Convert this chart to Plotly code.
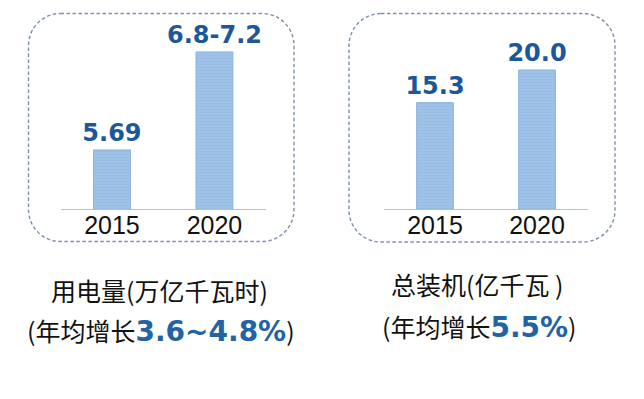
import plotly.graph_objects as go

# the page body has an 8px margin; the figure is sized so that page == window
OFF = 8
W, H = 644 - 2 * OFF, 399 - 2 * OFF

# ---- data ----
years = ["2015", "2020"]
power_use = [5.69, 7.0]            # 万亿千瓦时 (2020 shown as range 6.8-7.2)
power_use_labels = ["5.69", "6.8-7.2"]
capacity = [15.3, 20.0]            # 亿千瓦
capacity_labels = ["15.3", "20.0"]

title_left_1 = "用电量(万亿千瓦时)"
title_left_2a, title_left_2b = "(年均增长", "3.6~4.8%"
title_right_1 = "总装机(亿千瓦 )"
title_right_2a, title_right_2b = "(年均增长", "5.5%"

BAR = "#9FC3E8"
BAR_LINE = "#8DB3DE"
LABEL_BLUE = "#1D5797"
BOLD_BLUE = "#2163A5"
BOX = "#7F90A8"


def px(x):
    return (x - OFF) / W


def py(y):
    return 1 - (y - OFF) / H


def bar(x, y, text, xa, ya):
    return go.Bar(
        x=x, y=y, text=text, xaxis=xa, yaxis=ya,
        textposition="outside", constraintext="none", cliponaxis=True,
        textfont=dict(family="DejaVu Sans", size=24, color=LABEL_BLUE, weight="bold"),
        marker=dict(
            color=BAR,
            line=dict(color=BAR_LINE, width=1),
            pattern=dict(shape="-", bgcolor=BAR, fgcolor="#8AB2DD", size=3, solidity=0.25),
        ),
        width=0.36, showlegend=False, hoverinfo="skip",
    )


fig = go.Figure()
fig.add_trace(bar(years, power_use, power_use_labels, "x", "y"))
fig.add_trace(bar(years, capacity, capacity_labels, "x2", "y2"))

base_y, top_y = 209, 15
ydom = [py(base_y), py(top_y)]

axis_common = dict(
    showline=True, linecolor="#BFBFBF", linewidth=1, ticks="", showgrid=False,
    zeroline=False, tickfont=dict(family="Liberation Sans, Arial", size=25, color="#111"),
    ticklabelstandoff=-6, fixedrange=True,
)
fig.update_layout(
    width=W, height=H, margin=dict(l=0, r=0, t=0, b=0),
    paper_bgcolor="white", plot_bgcolor="white",
    xaxis=dict(domain=[px(60.7), px(265.7)], anchor="y", **axis_common),
    xaxis2=dict(domain=[px(384), px(588)], anchor="y2", **axis_common),
    yaxis=dict(domain=ydom, range=[4.90, 7.494], visible=False, anchor="x"),
    yaxis2=dict(domain=ydom, range=[0, 27.91], visible=False, anchor="x2"),
)


def rrect(x0, y0, x1, y1, r):
    k = 0.5523 * r
    pts = []
    pts.append(f"M {px(x0 + r)},{py(y0)}")
    pts.append(f"L {px(x1 - r)},{py(y0)}")
    pts.append(f"C {px(x1 - r + k)},{py(y0)} {px(x1)},{py(y0 + r - k)} {px(x1)},{py(y0 + r)}")
    pts.append(f"L {px(x1)},{py(y1 - r)}")
    pts.append(f"C {px(x1)},{py(y1 - r + k)} {px(x1 - r + k)},{py(y1)} {px(x1 - r)},{py(y1)}")
    pts.append(f"L {px(x0 + r)},{py(y1)}")
    pts.append(f"C {px(x0 + r - k)},{py(y1)} {px(x0)},{py(y1 - r + k)} {px(x0)},{py(y1 - r)}")
    pts.append(f"L {px(x0)},{py(y0 + r)}")
    pts.append(f"C {px(x0)},{py(y0 + r - k)} {px(x0 + r - k)},{py(y0)} {px(x0 + r)},{py(y0)} Z")
    return " ".join(pts)


for (x0, y0, x1, y1) in [(28.5, 13.5, 294, 241.5), (349, 13.5, 615, 242)]:
    fig.add_shape(type="path", xref="paper", yref="paper", path=rrect(x0, y0, x1, y1, 32),
                  line=dict(color=BOX, width=1.4, dash="3.5px,2.5px"))

cjk = "Noto Sans CJK SC"


def note(text, x, y):
    fig.add_annotation(text=text, x=px(x), y=py(y), xref="paper", yref="paper",
                       xanchor="center", yanchor="middle", showarrow=False,
                       font=dict(family=cjk, size=25, color="#111"))


def bold_span(t):
    return (f"<span style='font-family:DejaVu Sans;font-size:28px;color:{BOLD_BLUE}'>"
            f"<b>{t}</b></span>")


note(title_left_1, 159, 290)
note(title_left_2a + bold_span(title_left_2b) + ")", 161, 330)
note(title_right_1, 478, 284)
note(title_right_2a + bold_span(title_right_2b) + ")", 479, 326)

fig.write_html("out.html")
